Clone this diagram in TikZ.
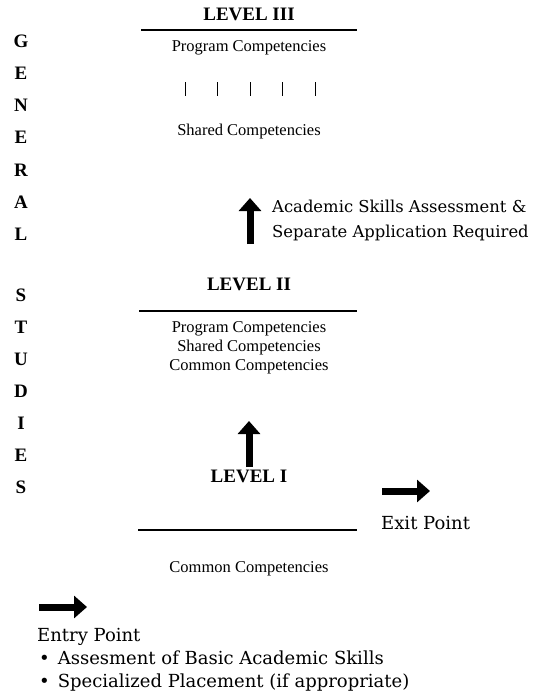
\documentclass[tikz,border=0pt]{standalone}
\usepackage{fontspec}
\setmainfont{Liberation Serif}
\newfontfamily\notefont{DejaVu Serif}
\usetikzlibrary{arrows.meta}

\tikzset{
  level/.style={font=\fontsize{19}{22}\selectfont\bfseries},
  comp/.style={font=\fontsize{16.5}{19}\selectfont, align=center},
  side/.style={font=\fontsize{19}{22}\selectfont\bfseries},
  note/.style={font=\notefont\fontsize{16.4}{25}\selectfont, align=left, inner sep=0pt},
  point/.style={font=\notefont\fontsize{18}{23}\selectfont, align=left, inner sep=0pt},
  rule/.style={line width=2pt},
  bigarrow/.style={line width=7pt, -{Triangle[width=22pt,length=13pt]}},
}

\begin{document}
\begin{tikzpicture}[x=1pt,y=-1pt]
    \useasboundingbox (0,0) rectangle (535,694);

    % side letters
    \foreach \ch [count=\i] in {G,E,N,E,R,A,L}
        \node[side] (gen\i) at (21, {41+32.2*(\i-1)}) {\ch};
    \foreach \ch [count=\i] in {S,T,U,D,I,E,S}
        \node[side] (stu\i) at (21, {295+32*(\i-1)}) {\ch};

    % Level III
    \node[level] (l3) at (249, 14) {LEVEL III};
    \draw[rule] (141, 30) -- (357, 30);
    \node[comp] (l3prog) at (249, 48) {Program Competencies};
    \foreach \x [count=\i] in {185,217,250,282,315}
        \draw (\x, 82) -- (\x, 96);
    \node[comp] (l3shared) at (249, 132) {Shared Competencies};

    % to level III
    \coordinate (a3s) at (250, 244);
    \coordinate (a3e) at (250, 198);
    \draw[bigarrow] (a3s) -- (a3e);
    \node[note, anchor=west] (req) at (272, 220) {Academic Skills Assessment \&\\Separate Application Required};

    % Level II
    \node[level] (l2) at (249, 284) {LEVEL II};
    \draw[rule] (139, 311) -- (357, 311);
    \node[comp] (l2comp) at (249, 348) {Program Competencies\\Shared Competencies\\Common Competencies};

    % to level II
    \coordinate (a2s) at (249, 467);
    \coordinate (a2e) at (249, 421);
    \draw[bigarrow] (a2s) -- (a2e);

    % Level I
    \node[level] (l1) at (249, 476) {LEVEL I};
    \draw[rule] (138, 530) -- (357, 530);
    \node[comp] (l1comp) at (249, 569) {Common Competencies};

    % exit
    \coordinate (exs) at (382, 491);
    \coordinate (exe) at (430, 491);
    \draw[bigarrow] (exs) -- (exe);
    \node[point, anchor=west] (exit) at (381, 523) {Exit Point};

    % entry
    \coordinate (ens) at (39, 607);
    \coordinate (ene) at (87, 607);
    \draw[bigarrow] (ens) -- (ene);
    \node[point, anchor=north west] (entry) at (37, 628) {Entry Point\\
        \hspace*{2pt}\textbullet\hspace{8pt}Assesment of Basic Academic Skills\\
        \hspace*{2pt}\textbullet\hspace{8pt}Specialized Placement (if appropriate)};
\end{tikzpicture}
\end{document}
